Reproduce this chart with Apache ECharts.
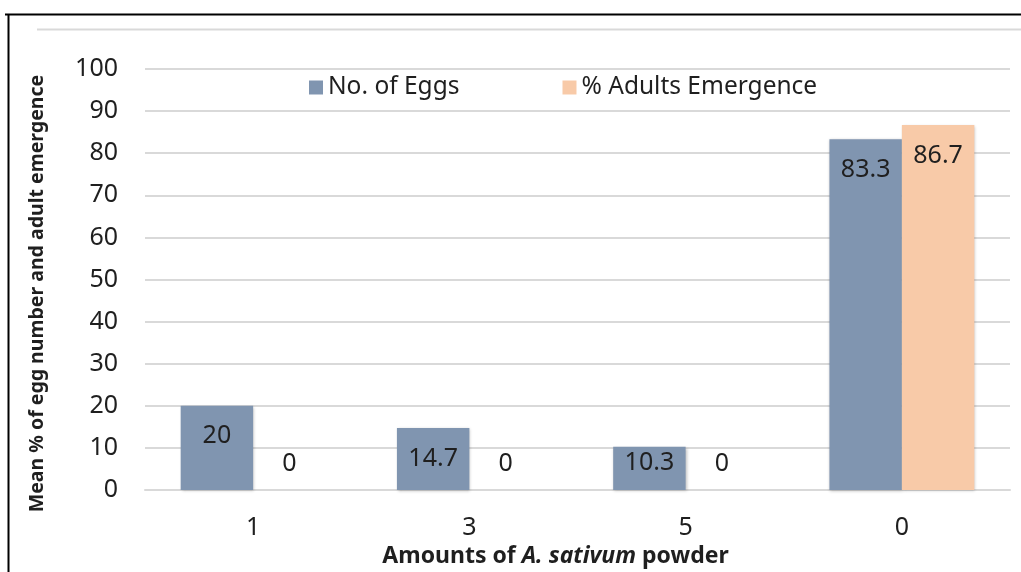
<!DOCTYPE html>
<html>
<head>
<meta charset="utf-8">
<script src="https://cdn.jsdelivr.net/npm/echarts@6/dist/echarts.min.js"></script>
<style>
  html, body { margin: 0; padding: 0; background: #fff; }
  #chart { width: 1021px; height: 572px; }
</style>
</head>
<body>
<div id="chart"></div>
<script>
// Powder amounts (categories) and the two measured series
const categories = ['1', '3', '5', '0'];
const eggs = [20, 14.7, 10.3, 83.3];
const adultEmergence = [0, 0, 0, 86.7];
const yTicks = { min: 0, max: 100, step: 10 };

const FONT = '"Noto Sans", "Open Sans", sans-serif';
const TEXT = '#1f1f1f';
const SIZE = 25;

const chart = echarts.init(document.getElementById('chart'), null, { renderer: 'canvas' });

// Label placement: zero bars get the label above the baseline; short bars keep it
// near the bottom of the bar; taller bars show it just inside the top.
function withLabels(values) {
  const base = chart.convertToPixel({ yAxisIndex: 0 }, 0);
  return values.map(v => {
    const h = base - chart.convertToPixel({ yAxisIndex: 0 }, v);
    let label;
    if (v === 0) label = { position: 'top', distance: 14 };
    else if (h < 58) label = { position: 'insideBottom', distance: 15 };
    else label = { position: 'insideTop', distance: 18 };
    return { value: v, label };
  });
}

chart.setOption({
  animation: false,
  backgroundColor: '#fff',
  textStyle: { fontFamily: FONT },
  graphic: [
    { type: 'line', shape: { x1: 5, y1: 14.5, x2: 1021, y2: 14.5 }, style: { stroke: '#000', lineWidth: 2 } },
    { type: 'line', shape: { x1: 8.5, y1: 14, x2: 8.5, y2: 572 }, style: { stroke: '#000', lineWidth: 2 } },
    { type: 'line', shape: { x1: 37, y1: 29.5, x2: 1021, y2: 29.5 }, style: { stroke: '#d9d9d9', lineWidth: 2 } }
  ],
  legend: {
    left: 304,
    top: 70,
    itemWidth: 14,
    itemHeight: 14,
    itemGap: 103,
    icon: 'rect',
    textStyle: { fontFamily: FONT, fontSize: 24.5, color: TEXT, padding: [0, 0, 0, 0] },
    data: ['No. of Eggs', '% Adults Emergence']
  },
  grid: { left: 145, right: 11, top: 69, bottom: 82, outerBoundsMode: 'none' },
  xAxis: {
    type: 'category',
    data: categories,
    axisLine: { lineStyle: { color: '#d9d9d9', width: 2 } },
    axisTick: { show: false },
    axisLabel: { fontFamily: FONT, fontSize: SIZE, color: TEXT, margin: 25 },
    name: '{b|Amounts of }{i|A. sativum}{b| powder}',
    nameLocation: 'middle',
    nameGap: 53,
    nameTextStyle: {
      padding: [0, 44, 0, 0],
      rich: {
        b: { fontFamily: FONT, fontSize: 23, fontWeight: 'bold', color: TEXT },
        i: { fontFamily: FONT, fontSize: 23, fontWeight: 'bold', fontStyle: 'italic', color: TEXT }
      }
    }
  },
  yAxis: {
    type: 'value',
    min: yTicks.min,
    max: yTicks.max,
    interval: yTicks.step,
    axisLine: { show: false },
    axisTick: { show: false },
    splitLine: { lineStyle: { color: '#d9d9d9', width: 2 } },
    axisLabel: { fontFamily: FONT, fontSize: SIZE, color: TEXT, margin: 27 },
    name: 'Mean % of egg number and adult emergence',
    nameLocation: 'middle',
    nameGap: 98,
    nameRotate: 90,
    nameTextStyle: { fontFamily: FONT, fontSize: 19.5, fontWeight: 'bold', color: TEXT, padding: [0, 28, 0, 0] }
  },
  series: [
    {
      name: 'No. of Eggs',
      type: 'bar',
      data: eggs,
      barGap: '0%',
      barCategoryGap: '33%',
      itemStyle: { color: '#8095b0', shadowColor: 'rgba(0,0,0,0.25)', shadowBlur: 3, shadowOffsetX: 1, shadowOffsetY: 1 },
      label: { show: true, fontFamily: FONT, fontSize: SIZE, color: TEXT }
    },
    {
      name: '% Adults Emergence',
      type: 'bar',
      data: adultEmergence,
      barGap: '0%',
      barCategoryGap: '33%',
      itemStyle: { color: '#f8caa8', shadowColor: 'rgba(0,0,0,0.25)', shadowBlur: 3, shadowOffsetX: 1, shadowOffsetY: 1 },
      label: { show: true, fontFamily: FONT, fontSize: SIZE, color: TEXT }
    }
  ]
});

// Once the axes exist, attach per-bar label placement
chart.setOption({
  series: [
    { data: withLabels(eggs) },
    { data: withLabels(adultEmergence) }
  ]
});
</script>
</body>
</html>
